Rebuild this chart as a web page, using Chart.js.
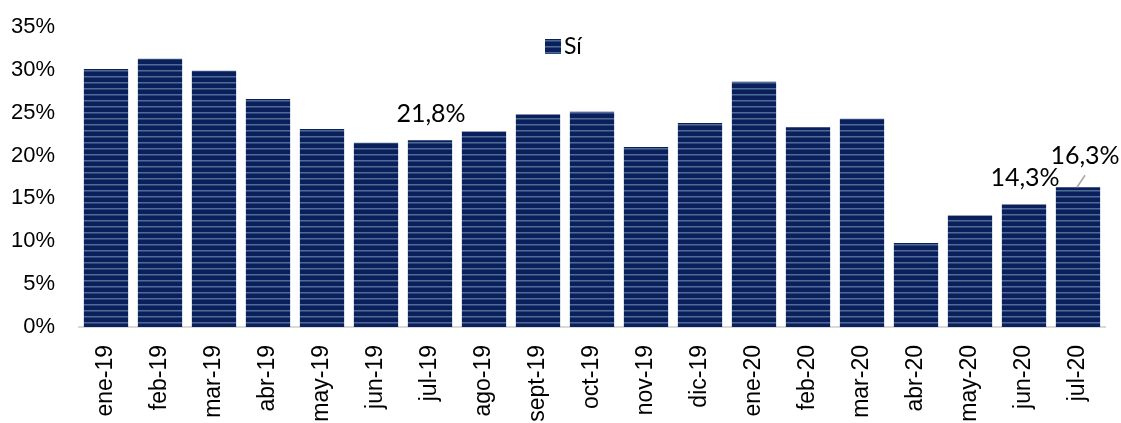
<!DOCTYPE html>
<html>
<head>
<meta charset="utf-8">
<script src="https://cdn.jsdelivr.net/npm/chart.js@4.4.1/dist/chart.umd.min.js"></script>
<style>
  html, body { margin: 0; padding: 0; background: #fff; }
  #wrap { width: 1121px; height: 423px; }
</style>
</head>
<body>
<div id="wrap"><canvas id="siChart" width="1121" height="423"></canvas></div>
<script>
const months = ['ene-19', 'feb-19', 'mar-19', 'abr-19', 'may-19', 'jun-19', 'jul-19', 'ago-19',
    'sept-19', 'oct-19', 'nov-19', 'dic-19', 'ene-20', 'feb-20', 'mar-20', 'abr-20',
    'may-20', 'jun-20', 'jul-20'];
const siValues = [30.1, 31.3, 29.9, 26.6, 23.1, 21.5, 21.8, 22.8, 24.8, 25.1, 21.0, 23.8,
    28.6, 23.3, 24.3, 9.8, 13.0, 14.3, 16.3];
const seriesName = 'Sí';
// only these months carry a value label in the original
const labelledMonths = ['jul-19', 'jun-20', 'jul-20'];

// striped navy fill
function makeStripes(ctx) {
    const c = document.createElement('canvas');
    c.width = 6;
    c.height = 6;
    const p = c.getContext('2d');
    p.fillStyle = '#0b1f5c';
    p.fillRect(0, 0, 6, 6);
    p.fillStyle = '#4d6c93';
    p.fillRect(0, 4, 6, 1);
    p.fillStyle = '#2c487a';
    p.fillRect(0, 5, 6, 1);
    return ctx.createPattern(c, 'repeat');
}

const fmt = v => v.toFixed(1).replace('.', ',') + '%';

const valueLabels = {
    id: 'valueLabels',
    afterDatasetsDraw(chart) {
        const ctx = chart.ctx;
        const x = chart.scales.x;
        const y = chart.scales.y;
        ctx.save();
        ctx.font = '25px Lato';
        ctx.fillStyle = '#000';
        ctx.textAlign = 'center';
        ctx.textBaseline = 'middle';
        labelledMonths.forEach(m => {
            const i = months.indexOf(m);
            const px = x.getPixelForValue(i);
            const py = y.getPixelForValue(siValues[i]);
            if (m === 'jul-20') {
                ctx.strokeStyle = '#a6a6a6';
                ctx.lineWidth = 1.5;
                ctx.beginPath();
                ctx.moveTo(px + 7, py - 12);
                ctx.lineTo(px - 1, py);
                ctx.stroke();
                ctx.fillText(fmt(siValues[i]), px + 7, py - 31);
            } else {
                ctx.fillText(fmt(siValues[i]), px + 1, py - 26);
            }
        });
        ctx.restore();
    }
};

const legendInside = {
    id: 'legendInside',
    afterDraw(chart) {
        const ctx = chart.ctx;
        const area = chart.chartArea;
        const cx = (area.left + area.right) / 2;
        ctx.save();
        ctx.fillStyle = chart.data.datasets[0].backgroundColor;
        ctx.fillRect(cx - 47, 39, 16, 15);
        ctx.font = '23px Lato';
        ctx.fillStyle = '#000';
        ctx.textBaseline = 'middle';
        ctx.textAlign = 'left';
        ctx.fillText(seriesName, cx - 28, 47);
        ctx.restore();
    }
};

const ctx = document.getElementById('siChart').getContext('2d');
const stripes = makeStripes(ctx);

new Chart(ctx, {
    type: 'bar',
    data: {
        labels: months,
        datasets: [{
            label: seriesName,
            data: siValues,
            backgroundColor: stripes,
            borderWidth: 0,
            barPercentage: 0.82,
            categoryPercentage: 1
        }]
    },
    options: {
        responsive: false,
        animation: false,
        layout: { padding: { left: 8, right: 16, top: 27, bottom: 0 } },
        plugins: {
            legend: { display: false },
            tooltip: { enabled: false }
        },
        scales: {
            x: {
                grid: { display: false, drawTicks: false },
                border: { display: true, color: '#d9d9d9', width: 2 },
                afterFit: s => { s.height = 96; s.paddingLeft = 0; s.paddingRight = 0; },
                ticks: {
                    minRotation: 90,
                    maxRotation: 90,
                    padding: 18,
                    color: '#000',
                    font: { family: 'Liberation Sans', size: 23 }
                }
            },
            y: {
                min: 0,
                max: 35,
                grid: { display: false, drawTicks: false },
                border: { display: false },
                afterFit: s => { s.width = 71; s.paddingTop = 0; s.paddingBottom = 0; },
                ticks: {
                    stepSize: 5,
                    padding: 24,
                    color: '#000',
                    font: { family: 'Liberation Sans', size: 22 },
                    callback: v => v + '%'
                }
            }
        }
    },
    plugins: [valueLabels, legendInside]
});
</script>
</body>
</html>
